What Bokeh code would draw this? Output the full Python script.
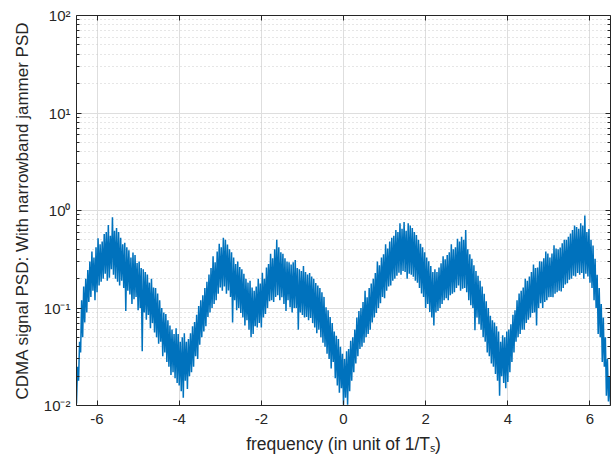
import numpy as np
from bokeh.plotting import figure
from bokeh.models import LinearAxis, LogAxis, FixedTicker, CustomJSTickFormatter, Range1d
from bokeh.embed import file_html
from bokeh.resources import INLINE

# ---------------- data ----------------
# uniform frequency bins, -6.5 ... 6.5 in steps of 0.025 (1/Ts units)
freq = np.linspace(-6.5, 6.5, 521)
psd = [
    # -6.500 ... -5.525
    0.0105, 0.025, 0.018, 0.045, 0.035, 0.12, 0.05, 0.166, 0.071, 0.2, 0.09, 0.245, 0.115, 0.3, 0.13, 0.38, 0.15, 0.33, 0.12, 0.42,
    0.145, 0.52, 0.17, 0.45, 0.186, 0.48, 0.2, 0.575, 0.224, 0.6, 0.19, 0.71, 0.204, 0.55, 0.25, 0.85, 0.219, 0.62, 0.2, 0.66,
    # -5.500 ... -4.525
    0.186, 0.6, 0.17, 0.525, 0.19, 0.45, 0.16, 0.468, 0.093, 0.42, 0.15, 0.39, 0.138, 0.33, 0.11, 0.37, 0.123, 0.35, 0.13, 0.29,
    0.095, 0.3, 0.1, 0.257, 0.036, 0.25, 0.09, 0.234, 0.076, 0.22, 0.085, 0.182, 0.062, 0.2, 0.07, 0.162, 0.056, 0.16, 0.05, 0.141,
    # -4.500 ... -3.525
    0.043, 0.12, 0.045, 0.10, 0.032, 0.09, 0.035, 0.087, 0.028, 0.075, 0.025, 0.066, 0.0205, 0.06, 0.022, 0.054, 0.019, 0.062, 0.017, 0.054,
    0.016, 0.045, 0.014, 0.05, 0.012, 0.055, 0.018, 0.045, 0.0148, 0.048, 0.02, 0.055, 0.022, 0.065, 0.025, 0.072, 0.032, 0.085, 0.03, 0.105,
    # -3.500 ... -2.525
    0.042, 0.12, 0.05, 0.135, 0.0575, 0.16, 0.065, 0.186, 0.081, 0.22, 0.09, 0.257, 0.10, 0.34, 0.11, 0.295, 0.12, 0.38, 0.14, 0.457,
    0.162, 0.42, 0.15, 0.525, 0.166, 0.5, 0.14, 0.447, 0.151, 0.4, 0.13, 0.372, 0.071, 0.33, 0.12, 0.282, 0.095, 0.3, 0.1, 0.263,
    # -2.500 ... -1.525
    0.089, 0.25, 0.08, 0.224, 0.066, 0.2, 0.075, 0.182, 0.060, 0.19, 0.05, 0.162, 0.054, 0.15, 0.065, 0.166, 0.063, 0.2, 0.07, 0.178,
    0.063, 0.23, 0.08, 0.20, 0.087, 0.26, 0.1, 0.282, 0.117, 0.36, 0.12, 0.324, 0.115, 0.4, 0.13, 0.50, 0.135, 0.42, 0.12, 0.372,
    # -1.500 ... -0.525
    0.129, 0.36, 0.11, 0.324, 0.093, 0.3, 0.12, 0.295, 0.102, 0.28, 0.09, 0.295, 0.10, 0.31, 0.1, 0.257, 0.060, 0.25, 0.09, 0.24,
    0.085, 0.27, 0.08, 0.234, 0.081, 0.22, 0.075, 0.229, 0.079, 0.21, 0.07, 0.20, 0.063, 0.18, 0.055, 0.17, 0.060, 0.16, 0.05, 0.145,
    # -0.500 ... 0.475
    0.044, 0.13, 0.04, 0.102, 0.034, 0.095, 0.03, 0.081, 0.024, 0.07, 0.028, 0.0575, 0.019, 0.052, 0.016, 0.048, 0.0135, 0.04, 0.015, 0.034,
    0.0102, 0.03, 0.012, 0.036, 0.0102, 0.038, 0.014, 0.046, 0.018, 0.05, 0.022, 0.060, 0.027, 0.08, 0.032, 0.093, 0.038, 0.1, 0.04, 0.115,
    # 0.500 ... 1.475
    0.044, 0.15, 0.05, 0.129, 0.054, 0.16, 0.06, 0.178, 0.071, 0.2, 0.08, 0.229, 0.089, 0.3, 0.1, 0.275, 0.112, 0.33, 0.13, 0.355,
    0.126, 0.45, 0.15, 0.407, 0.166, 0.48, 0.17, 0.525, 0.19, 0.55, 0.2, 0.63, 0.214, 0.6, 0.23, 0.74, 0.219, 0.65, 0.24, 0.76,
    # 1.500 ... 2.475
    0.234, 0.62, 0.2, 0.74, 0.224, 0.7, 0.22, 0.66, 0.209, 0.6, 0.19, 0.56, 0.182, 0.5, 0.16, 0.457, 0.141, 0.42, 0.13, 0.372,
    0.10, 0.33, 0.11, 0.302, 0.091, 0.27, 0.08, 0.234, 0.066, 0.25, 0.09, 0.234, 0.093, 0.26, 0.1, 0.288, 0.11, 0.34, 0.12, 0.316,
    # 2.500 ... 3.475
    0.126, 0.35, 0.12, 0.372, 0.135, 0.45, 0.14, 0.40, 0.145, 0.42, 0.16, 0.513, 0.17, 0.48, 0.15, 0.537, 0.158, 0.5, 0.16, 0.63,
    0.145, 0.4, 0.12, 0.355, 0.107, 0.32, 0.1, 0.275, 0.059, 0.24, 0.08, 0.214, 0.068, 0.19, 0.06, 0.166, 0.05, 0.14, 0.045, 0.117,
    # 3.500 ... 4.475
    0.035, 0.1, 0.032, 0.083, 0.027, 0.075, 0.025, 0.071, 0.021, 0.065, 0.018, 0.0575, 0.0126, 0.045, 0.02, 0.0525, 0.017, 0.05, 0.015, 0.0575,
    0.0174, 0.06, 0.022, 0.068, 0.028, 0.085, 0.035, 0.095, 0.045, 0.12, 0.05, 0.141, 0.054, 0.15, 0.06, 0.162, 0.060, 0.2, 0.07, 0.19,
    # 4.500 ... 5.475
    0.076, 0.21, 0.08, 0.234, 0.089, 0.28, 0.09, 0.257, 0.066, 0.26, 0.1, 0.302, 0.112, 0.3, 0.1, 0.324, 0.115, 0.38, 0.12, 0.363,
    0.129, 0.33, 0.13, 0.363, 0.129, 0.44, 0.14, 0.407, 0.145, 0.4, 0.15, 0.417, 0.148, 0.46, 0.16, 0.50, 0.174, 0.5, 0.18, 0.537,
    # 5.500 ... 6.475
    0.195, 0.58, 0.2, 0.63, 0.214, 0.7, 0.21, 0.676, 0.229, 0.65, 0.22, 0.74, 0.229, 0.7, 0.2, 0.89, 0.224, 0.6, 0.21, 0.645,
    0.182, 0.5, 0.16, 0.437, 0.12, 0.32, 0.1, 0.219, 0.054, 0.16, 0.05, 0.11, 0.028, 0.08, 0.025, 0.05, 0.0126, 0.03, 0.011, 0.02,
    # 6.500
    0.0102,
]
xtick_vals = [-6, -4, -2, 0, 2, 4, 6]
xtick_labels = ["-6", "-4", "-2", "0", "2", "4", "6"]
ytick_vals = [0.01, 0.1, 1, 10, 100]
ytick_labels = ["10\u207b\u00b2", "10\u207b\u00b9", "10\u2070", "10\u00b9", "10\u00b2"]
ylabel_text = "CDMA signal PSD: With narrowband jammer PSD"
xlabel_text = "frequency (in unit of 1/T\u209b)"

# ---------------- styling ----------------
FONT = "Liberation Sans"
TXT = "#262626"
AX = "#262626"
LINE = "#0072BD"

p = figure(width=615, height=458,
           x_range=Range1d(-6.5, 6.5), y_range=Range1d(0.01, 100),
           y_axis_type="log", output_backend="svg", toolbar_location=None,
           min_border_left=76, min_border_right=5, min_border_top=15, min_border_bottom=53,
           background_fill_color="white", border_fill_color="white",
           outline_line_color=None)

yminor = [m * 10.0 ** k for k in range(-2, 2) for m in range(2, 10)]
xt = FixedTicker(ticks=xtick_vals, minor_ticks=[])
yt = FixedTicker(ticks=ytick_vals, minor_ticks=yminor)
blank = CustomJSTickFormatter(code="return ''")

def style_axis(ax):
    ax.axis_line_color = AX
    ax.axis_line_width = 1
    ax.major_tick_in = 5
    ax.major_tick_out = 0
    ax.minor_tick_in = 3
    ax.minor_tick_out = 0
    ax.major_tick_line_color = AX
    ax.minor_tick_line_color = AX
    ax.major_label_text_font = FONT
    ax.major_label_text_font_size = "15px"
    ax.major_label_text_color = TXT
    ax.axis_label_text_font = FONT
    ax.axis_label_text_font_size = "17px"
    ax.axis_label_text_font_style = "normal"
    ax.axis_label_text_color = TXT

xa = p.xaxis[0]
style_axis(xa)
xa.ticker = xt
xa.major_label_overrides = {v: s for v, s in zip(xtick_vals, xtick_labels)}
xa.major_label_standoff = 8
xa.axis_label = xlabel_text
xa.axis_label_text_font_size = "17.5px"
xa.axis_label_standoff = 7

ya = p.yaxis[0]
style_axis(ya)
ya.ticker = yt
ya.major_label_overrides = {v: s for v, s in zip(ytick_vals, ytick_labels)}
ya.major_label_standoff = 6
ya.axis_label = ylabel_text
ya.axis_label_standoff = 9

top = LinearAxis(ticker=xt, formatter=blank, major_label_standoff=0)
style_axis(top)
p.add_layout(top, "above")
right = LogAxis(ticker=yt, formatter=blank, major_label_standoff=0)
style_axis(right)
p.add_layout(right, "right")

p.xgrid.grid_line_color = "#dedede"
p.ygrid.grid_line_color = "#dedede"
p.ygrid.minor_grid_line_color = "#cccccc"
p.ygrid.minor_grid_line_dash = "1 3"

p.line(freq, psd, line_color=LINE, line_width=1.5)

open("out.html", "w").write(file_html(p, INLINE))
